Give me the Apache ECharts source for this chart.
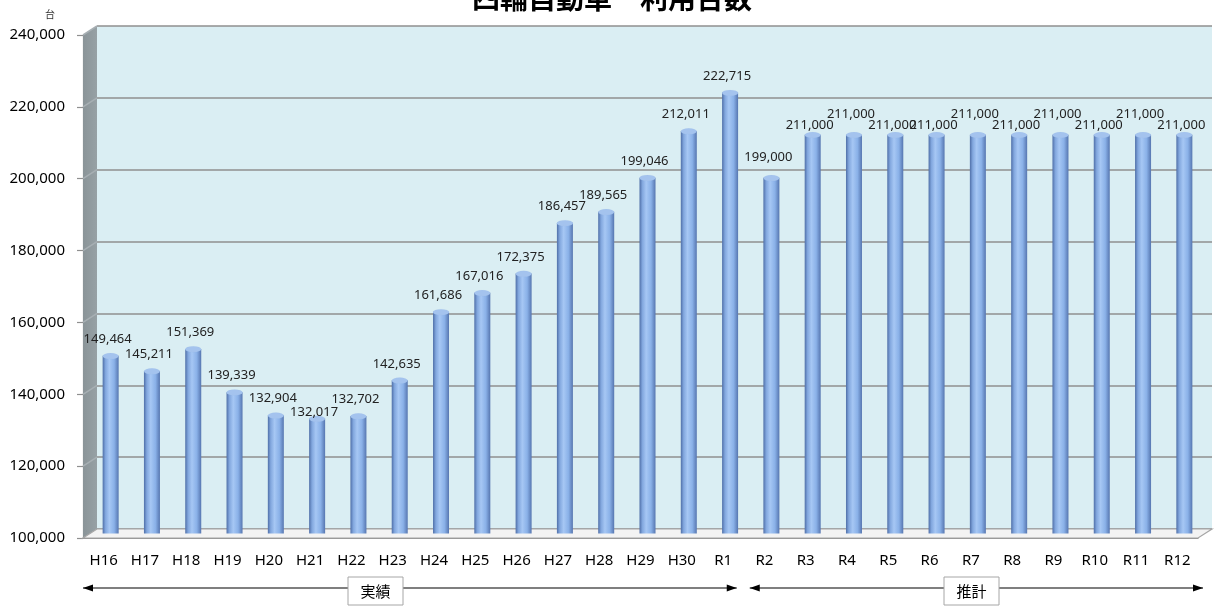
<!DOCTYPE html>
<html><head><meta charset="utf-8">
<script src="https://cdn.jsdelivr.net/npm/echarts@6/dist/echarts.min.js"></script>
<style>html,body{margin:0;padding:0;background:#fff}#c{width:1215px;height:611px}</style>
</head><body><div id="c"></div>
<script>
// ---- data ----
const categories = ['H16','H17','H18','H19','H20','H21','H22','H23','H24','H25','H26','H27','H28','H29','H30','R1',
                    'R2','R3','R4','R5','R6','R7','R8','R9','R10','R11','R12'];
const values = [149464,145211,151369,139339,132904,132017,132702,142635,161686,167016,172375,186457,189565,199046,212011,222715,
                199000,211000,211000,211000,211000,211000,211000,211000,211000,211000,211000];
const yMin = 100000, yMax = 240000, yStep = 20000;
const titleText = '四輪自動車　利用台数';
const unitText = '台';
const periodLabels = ['実績', '推計'];
const actualLastCategory = 'R1';
// label placement groups (Excel auto placement)
const lowLabels = ['H21','R3','R5','R6','R8','R10','R12'];
const highLabels = ['R2','R4','R7','R9','R11'];

// ---- layout ----
const W = 1215, H = 611;
const front = {left: 83, right: 17, top: 35, bottom: 73};
const dx = 14, dy = -9;
const back = {left: front.left + dx, right: front.right - dx, top: front.top + dy, bottom: front.bottom - dy};
const mid = {left: front.left + dx/2, right: front.right - dx/2, top: front.top + dy/2, bottom: front.bottom - dy/2};

function yPix(g, v) { return g.top + (1 - (v - yMin) / (yMax - yMin)) * (H - g.top - g.bottom); }
function xEdge(g, i) { return g.left + i * (W - g.left - g.right) / categories.length; }

const ticks = [];
for (let v = yMin; v <= yMax; v += yStep) ticks.push(v);

const fontLatin = '"Noto Sans", "Liberation Sans", sans-serif';
const fontCJK = '"Noto Sans CJK JP", "Noto Sans", sans-serif';

const graphics = [];
// title (partly cut off at the top, as in the source image)
graphics.push({type: 'text', z: 10, x: 612, y: -2, style: {text: titleText, font: 'bold 28px ' + fontCJK,
  fill: '#000', align: 'center', verticalAlign: 'middle'}});
// left side wall
graphics.push({type: 'polygon', z: 1, shape: {points: [
  [front.left, yPix(front, yMax)], [back.left, yPix(back, yMax)],
  [back.left, yPix(back, yMin)], [front.left, yPix(front, yMin)]]},
  style: {fill: new echarts.graphic.LinearGradient(0,0,1,0,[{offset:0,color:'#8A9498'},{offset:1,color:'#97A1A5'}])}});
// gridlines on side wall
ticks.forEach(v => {
  if (v === yMin) return;
  graphics.push({type: 'line', z: 1, shape: {x1: front.left, y1: yPix(front, v), x2: back.left, y2: yPix(back, v)},
    style: {stroke: '#A7AFB3', lineWidth: 1.5}});
});
// floor
graphics.push({type: 'polygon', z: 1, shape: {points: [
  [front.left, yPix(front, yMin)], [W - front.right, yPix(front, yMin)],
  [W - back.right, yPix(back, yMin)], [back.left, yPix(back, yMin)]]},
  style: {fill: '#F3F3F3', stroke: '#A6A6A6', lineWidth: 1.2}});
// unit
graphics.push({type: 'text', left: 45, top: 9, style: {text: unitText, font: '10px ' + fontCJK, fill: '#333'}});

// period arrows
const arrowY = 588;
function arrow(x1, x2) {
  graphics.push({type: 'line', z: 5, shape: {x1: x1, y1: arrowY, x2: x2, y2: arrowY}, style: {stroke: '#000', lineWidth: 1.2}});
  graphics.push({type: 'polygon', z: 5, shape: {points: [[x1, arrowY], [x1 + 10, arrowY - 3.5], [x1 + 10, arrowY + 3.5]]}, style: {fill: '#000'}});
  graphics.push({type: 'polygon', z: 5, shape: {points: [[x2, arrowY], [x2 - 10, arrowY - 3.5], [x2 - 10, arrowY + 3.5]]}, style: {fill: '#000'}});
}
const splitIdx = categories.indexOf(actualLastCategory) + 1;
const a1s = xEdge(front, 0), a1e = xEdge(front, splitIdx) - 7;
const a2s = xEdge(front, splitIdx) + 6, a2e = xEdge(front, categories.length) + 5;
arrow(a1s, a1e);
arrow(a2s, a2e);
function box(cx, text) {
  graphics.push({type: 'rect', z: 6, shape: {x: cx - 27.5, y: 577, width: 55, height: 28},
    style: {fill: '#fff', stroke: '#A6A6A6', lineWidth: 1}});
  graphics.push({type: 'text', z: 7, x: cx, y: 591, style: {text: text, font: '15px ' + fontCJK, fill: '#000', align: 'center', verticalAlign: 'middle'}});
}
box(375.5, periodLabels[0]);
box(971.5, periodLabels[1]);

const barGrad = new echarts.graphic.LinearGradient(0, 0, 1, 0, [
  {offset: 0, color: '#4F6FA8'}, {offset: 0.18, color: '#82A7DE'}, {offset: 0.42, color: '#A6C7F4'},
  {offset: 0.72, color: '#8AB1E8'}, {offset: 1, color: '#5676B0'}]);

function labelDistance(c) {
  if (c === 'H21') return -3;
  if (lowLabels.includes(c)) return 0;
  if (highLabels.includes(c)) return 11;
  return 7;
}

const option = {
  animation: false,
  backgroundColor: '#fff',
  graphic: graphics,
  grid: [
    Object.assign({backgroundColor: '#DAEEF3', show: true, borderWidth: 0, z: 0}, back),
    Object.assign({}, mid),
    Object.assign({}, front)
  ],
  xAxis: [
    {gridIndex: 0, type: 'category', data: categories, show: false},
    {gridIndex: 1, type: 'category', data: categories, show: false},
    {gridIndex: 2, type: 'category', data: categories,
      axisLine: {lineStyle: {color: '#8F8F8F', width: 1.2}},
      axisTick: {length: 5, lineStyle: {color: '#8F8F8F', width: 1.2}},
      axisLabel: {fontFamily: fontLatin, fontSize: 15, color: '#000', margin: 15, interval: 0}}
  ],
  yAxis: [
    {gridIndex: 0, type: 'value', min: yMin, max: yMax, interval: yStep,
      axisLine: {show: false}, axisTick: {show: false}, axisLabel: {show: false},
      splitLine: {lineStyle: {color: '#8F8F8F', width: 1.5}}},
    {gridIndex: 1, type: 'value', min: yMin, max: yMax, interval: yStep, show: false, splitLine: {show: false}},
    {gridIndex: 2, type: 'value', min: yMin, max: yMax, interval: yStep,
      axisLine: {show: true, lineStyle: {color: '#8F8F8F', width: 1.2}},
      axisTick: {show: true, length: 6, lineStyle: {color: '#8F8F8F', width: 1.2}},
      splitLine: {show: false},
      axisLabel: {fontFamily: fontLatin, fontSize: 15, color: '#000', margin: 18,
        formatter: v => v.toLocaleString('en-US')}}
  ],
  series: [
    {type: 'bar', xAxisIndex: 1, yAxisIndex: 1, data: values, barWidth: 16, z: 3,
      itemStyle: {color: barGrad}},
    {type: 'pictorialBar', xAxisIndex: 1, yAxisIndex: 1, symbol: 'circle', symbolSize: [16, 6],
      symbolPosition: 'start', symbolOffset: [0, '50%'], z: 2,
      itemStyle: {color: barGrad}, data: values},
    {type: 'pictorialBar', xAxisIndex: 1, yAxisIndex: 1, symbol: 'circle', symbolSize: [16, 6],
      symbolPosition: 'end', symbolOffset: [0, '-50%'], z: 4,
      itemStyle: {color: '#A4C3EE', borderColor: '#5F80B8', borderWidth: 1},
      data: values.map((v, i) => ({value: v, label: {distance: labelDistance(categories[i])}})),
      label: {show: true, position: 'top', offset: [-3, 0], fontFamily: fontLatin, fontSize: 13, color: '#222',
        formatter: p => p.value.toLocaleString('en-US')}}
  ]
};
const chart = echarts.init(document.getElementById('c'), null, {renderer: 'canvas'});
chart.setOption(option);
</script></body></html>
